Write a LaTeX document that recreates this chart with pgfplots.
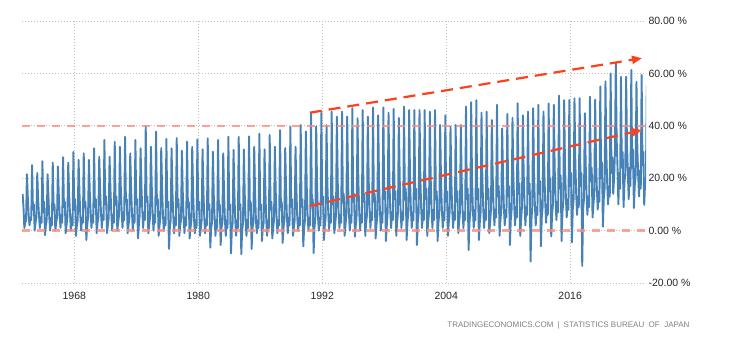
\documentclass[border=0pt]{standalone}
\usepackage{fontspec}
\setmainfont{Liberation Sans}
\usepackage{pgfplots}
\pgfplotsset{compat=1.18}
\usepackage{pgfplotstable}
\usetikzlibrary{arrows.meta}
\definecolor{teblue}{RGB}{70,130,182}
\definecolor{salmonline}{RGB}{255,140,122}
\definecolor{arrowred}{RGB}{255,64,26}
\definecolor{gridgray}{RGB}{190,190,190}

% Monthly values, Jan 1963 - Jun 2023 (one line per year)
\pgfplotstableread[header=false,row sep=\\]{
14\\9\\1\\3\\4\\21.5\\13\\6\\2\\5\\4\\25\\
8\\10\\0\\3\\5\\22\\12\\6\\1\\5\\3\\26.5\\
7\\11\\-1.7\\2\\4\\21.5\\13\\5\\0\\5\\2\\26\\
8\\10\\0\\3\\5\\24.5\\14\\6\\1\\6\\3\\28\\
9\\11\\-1\\2\\5\\26\\14\\7\\0\\5\\2\\30\\
8\\12\\-2\\2\\4\\27\\15\\6\\0\\5\\3\\29.5\\
9\\11\\-3.6\\2\\5\\27\\15\\7\\1\\6\\3\\31.4\\
9\\12\\-1\\3\\5\\28.2\\16\\7\\1\\6\\4\\34.6\\
10\\13\\-1\\2\\5\\28.2\\16\\7\\0\\6\\3\\33.9\\
10\\13\\0\\3\\6\\32\\17\\8\\1\\7\\4\\35.8\\
11\\12\\-1\\2\\5\\29.5\\16\\7\\0\\6\\3\\34.6\\
10\\12\\-3\\2\\6\\31.4\\17\\8\\1\\7\\4\\39.9\\
11\\13\\-1\\2\\5\\32\\17\\7\\0\\6\\3\\37.8\\
10\\12\\-2\\2\\5\\31.5\\16\\6\\0\\5\\2\\35\\
9\\11\\-7\\1\\4\\31.4\\15\\6\\-1\\5\\2\\35.3\\
9\\12\\-2\\2\\4\\30.5\\15\\5\\-1\\5\\2\\34\\
9\\11\\-3\\1\\4\\32\\15\\5\\-1\\4\\1\\34.8\\
8\\11\\-2\\1\\4\\31\\15\\5\\-1\\4\\2\\35.2\\
8\\10\\-6.5\\1\\3\\30.1\\14\\5\\-2\\4\\1\\34.6\\
8\\10\\-5.5\\1\\3\\29.5\\14\\4\\-2\\4\\1\\35.8\\
8\\10\\-8.7\\0\\3\\30.8\\14\\4\\-2\\4\\1\\35.8\\
8\\10\\-9\\0\\3\\31\\14\\4\\-2\\4\\1\\36\\
8\\11\\-7\\1\\3\\32\\15\\4\\-1\\4\\1\\37\\
8\\10\\-4\\1\\3\\31\\15\\4\\-2\\4\\1\\36.5\\
8\\11\\-3\\1\\4\\32\\15\\5\\-1\\4\\2\\38.4\\
9\\11\\-4.7\\1\\4\\31.5\\16\\5\\-1\\5\\2\\39.7\\
9\\12\\-2\\1\\4\\32\\16\\5\\0\\5\\2\\40.3\\
9\\12\\-6\\1\\4\\37.8\\17\\6\\0\\5\\2\\44.8\\
10\\12\\-8.6\\1\\5\\39.7\\18\\6\\0\\5\\2\\45\\
10\\13\\-3.6\\2\\5\\40.3\\18\\7\\0\\6\\3\\45.4\\
10\\13\\-1\\2\\6\\43.5\\19\\7\\1\\6\\3\\45.4\\
11\\14\\-2\\2\\6\\43.5\\19\\7\\0\\6\\3\\46.7\\
11\\14\\-2.3\\2\\6\\42.9\\19\\7\\0\\6\\3\\46\\
11\\14\\-2\\3\\6\\43.5\\19\\8\\1\\7\\4\\47\\
11\\14\\-3\\2\\6\\44\\19\\8\\0\\7\\3\\47\\
12\\15\\-4\\2\\7\\45\\20\\8\\1\\7\\4\\46.5\\
12\\15\\-2\\3\\7\\43\\20\\8\\1\\7\\4\\47.3\\
12\\16\\-3.6\\3\\7\\46\\20\\8\\1\\7\\4\\46\\
12\\16\\-5.5\\3\\7\\46\\20\\8\\1\\8\\4\\46\\
12\\16\\-2\\3\\7\\45.4\\20\\8\\1\\8\\4\\46\\
12\\15\\-4\\3\\7\\40.3\\19\\8\\1\\7\\4\\44\\
11\\15\\-2\\3\\7\\39.7\\19\\8\\1\\7\\4\\40.3\\
11\\15\\-1\\3\\7\\40.3\\19\\8\\1\\7\\4\\47.3\\
12\\16\\-7.4\\3\\7\\49\\20\\8\\1\\8\\4\\49.8\\
12\\16\\-3.6\\3\\7\\45\\20\\9\\1\\8\\4\\45.4\\
12\\16\\-1\\3\\8\\42.2\\21\\9\\2\\8\\5\\48\\
13\\17\\-2\\4\\8\\39\\21\\9\\2\\8\\5\\44.5\\
13\\17\\-5.5\\4\\8\\43\\21\\10\\2\\9\\5\\48.6\\
14\\18\\-2\\4\\9\\44\\22\\10\\2\\9\\6\\45.4\\
14\\18\\-11.8\\4\\9\\46.7\\22\\10\\2\\9\\6\\48\\
14\\19\\-6\\5\\9\\45.4\\23\\11\\3\\10\\6\\48.5\\
15\\20\\-2.2\\6\\10\\48\\24\\12\\4\\11\\7\\51.5\\
16\\21\\-4\\7\\11\\49.8\\25\\13\\5\\12\\8\\49.8\\
17\\22\\-4.5\\8\\12\\50.5\\26\\14\\6\\13\\9\\50.5\\
17\\22\\-13.5\\8\\12\\44.8\\26\\14\\6\\13\\9\\51.1\\
19\\24\\5\\10\\14\\50\\28\\16\\8\\15\\11\\55\\
20\\26\\1.5\\12\\16\\57\\30\\18\\10\\17\\13\\60\\
22\\28\\14\\20\\30\\63.8\\35\\24\\10\\22\\16\\58.7\\
24\\30\\9\\18\\22\\58.7\\33\\22\\12\\24\\17\\61.3\\
24\\31\\8.6\\17\\21\\56.8\\32\\21\\13\\23\\16\\59.4\\
25\\30\\9.8\\18\\20\\55.6\\
}\savings

\begin{document}
\begin{tikzpicture}[x=1pt,y=1pt]
\path[use as bounding box] (0,0) rectangle (730,340);
\begin{axis}[
  at={(22pt,57pt)}, anchor=south west,
  scale only axis, width=624pt, height=262pt,
  xmin=1962.94, xmax=2023.34, ymin=-20, ymax=80,
  xtick={1968,1980,1992,2004,2016},
  xticklabels={1968,1980,1992,2004,2016},
  ytick={-20,0,20,40,60,80},
  yticklabels={-20.00 \%,0.00 \%,20.00 \%,40.00 \%,60.00 \%,80.00 \%},
  yticklabel pos=right,
  tick label style={font=\fontsize{10.5}{12}\selectfont, text=black!85},
  xticklabel style={yshift=-6pt},
  yticklabel style={xshift=-1pt},
  axis line style={draw=none},
  major tick length=0pt,
  grid=major,
  major grid style={gridgray, line width=0.7pt, dash pattern=on 0.8pt off 2.2pt},
]
\addplot[teblue, line width=1.9pt, line join=round, no markers]
  table[x expr={1963+\coordindex/12}, y index=0] {\savings};
\addplot[salmonline, opacity=0.8, line width=2.3pt, dash pattern=on 8pt off 7pt, forget plot]
  coordinates {(1962.94,40) (2023.34,40)};
\addplot[salmonline, opacity=0.8, line width=2.3pt, dash pattern=on 8pt off 7pt, forget plot]
  coordinates {(1962.94,0) (2023.34,0)};
\addplot[arrowred, line width=2.2pt, dash pattern=on 12pt off 7pt, -{Triangle[length=10pt,width=8pt]}, forget plot]
  coordinates {(1990.8,45.0) (2022.95,65.8)};
\addplot[arrowred, line width=2.2pt, dash pattern=on 12pt off 7pt, -{Triangle[length=10pt,width=8pt]}, forget plot]
  coordinates {(1990.8,9.4) (2022.95,38.4)};
\end{axis}
\node[anchor=east, font=\fontsize{8}{9}\selectfont, text=black!50] at (693,15)
  {TRADINGECONOMICS.COM\enspace|\enspace STATISTICS\ BUREAU\ \ OF\ \ JAPAN};
\end{tikzpicture}
\end{document}
